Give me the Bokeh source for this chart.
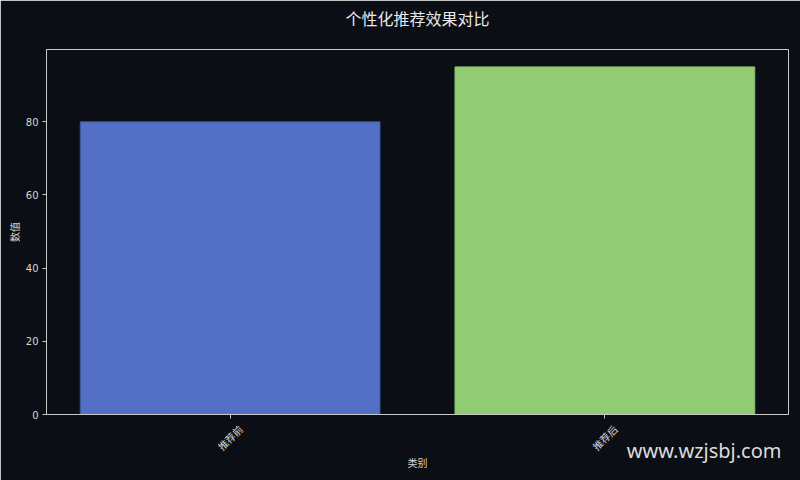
import math
from bokeh.plotting import figure
from bokeh.models import Range1d, FixedTicker, Title
from bokeh.embed import file_html
from bokeh.resources import INLINE

categories = ["推荐前", "推荐后"]
values = [80, 95]
colors = ["#5470c6", "#91cc75"]
edge_colors = ["#3f5396", "#86bd6c"]
y_ticks = [0, 20, 40, 60, 80]
positions = list(range(len(categories)))
title_text = "个性化推荐效果对比"
watermark = "www.wzjsbj.com"

BG = "#0b0e14"
FG = "#d6d6d6"
SPINE = "#c8c8c8"
CJK = "Noto Sans CJK SC"

p = figure(width=800, height=480, output_backend="svg", toolbar_location=None,
           x_range=Range1d(-0.49, 1.49), y_range=Range1d(0, 99.75),
           min_border_left=46, min_border_right=12, min_border_top=46, min_border_bottom=66)
p.background_fill_color = BG
p.border_fill_color = BG
p.outline_line_color = SPINE
p.outline_line_width = 1
p.grid.visible = False

p.vbar(x=positions, top=values, width=0.8, fill_color=colors, line_color=edge_colors, line_width=1)

# title (trailing empty line lifts the visible line away from the frame)
p.title.text = title_text + "\n"
p.title.align = "center"
p.title.vertical_align = "top"
p.title.text_font = CJK
p.title.text_font_size = "16px"
p.title.text_font_style = "normal"
p.title.text_color = "#e8e8e8"
p.title.text_line_height = 0.5
p.title.standoff = 11

# y axis
ya = p.yaxis[0]
ya.ticker = FixedTicker(ticks=y_ticks)
ya.axis_line_color = SPINE
ya.major_tick_line_color = SPINE
ya.major_tick_out = 4
ya.major_tick_in = 0
ya.minor_tick_line_color = None
ya.major_label_standoff = 4
ya.major_label_text_font = "DejaVu Sans"
ya.major_label_text_font_size = "10px"
ya.major_label_text_color = FG
ya.axis_label = "数值"
ya.axis_label_text_font = CJK
ya.axis_label_text_font_size = "10px"
ya.axis_label_text_font_style = "normal"
ya.axis_label_text_color = FG
ya.axis_label_standoff = 1

# x axis: rotated labels, a leading empty line centres each label on its tick
xa = p.xaxis[0]
xa.ticker = FixedTicker(ticks=positions)
xa.major_label_overrides = {pos: "\n" + cat for pos, cat in zip(positions, categories)}
xa.major_label_orientation = math.pi / 4
xa.axis_line_color = SPINE
xa.major_tick_line_color = SPINE
xa.major_tick_out = 4
xa.major_tick_in = 0
xa.minor_tick_line_color = None
xa.major_label_text_font = CJK
xa.major_label_text_font_size = "10px"
xa.major_label_text_color = FG
xa.major_label_text_line_height = 1.97
xa.major_label_standoff = -2
xa.axis_label = "类别"
xa.axis_label_text_font = CJK
xa.axis_label_text_font_size = "10px"
xa.axis_label_text_font_style = "normal"
xa.axis_label_text_color = FG
xa.axis_label_standoff = -17

# watermark: a right-aligned title below, pulled up beside the axis label
wm = Title(text=watermark, align="right", vertical_align="top", offset=7, standoff=-73,
           text_font="Noto Sans", text_font_size="20px", text_font_style="normal",
           text_color="#dcdcdc")
p.add_layout(wm, "below")

open("out.html", "w").write(file_html(p, INLINE))
